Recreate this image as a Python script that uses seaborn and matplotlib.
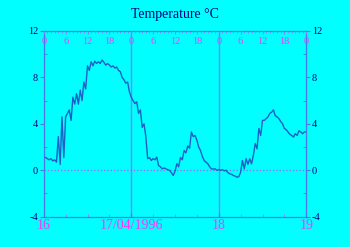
import numpy as np
import pandas as pd
import matplotlib
matplotlib.use("Agg")
import matplotlib.pyplot as plt
import seaborn as sns
from matplotlib.ticker import MultipleLocator, FixedLocator

# Half-hourly temperatures (°C) from 16 Apr 00:30 to 19 Apr 00:00
temps = [
    1.1, 1.0, 0.9, 1.0, 0.8, 0.9, 0.7, 2.9, 0.5, 4.6, 1.1, 4.6,
    4.9, 5.2, 4.3, 6.3, 5.7, 6.6, 5.7, 6.9, 6.0, 7.6, 7.0, 9.0,
    8.6, 9.35, 9.0, 9.4, 9.2, 9.35, 9.2, 9.5, 9.3, 9.06, 9.2, 9.06,
    8.9, 9.0, 8.8, 8.9, 8.6, 8.5, 8.0, 7.8, 7.5, 7.6, 6.75, 6.3,
    6.0, 5.75, 5.9, 4.9, 5.2, 3.7, 4.0, 2.9, 1.0, 1.1, 0.84, 1.0,
    0.9, 1.13, 0.4, 0.3, 0.12, 0.2, 0.12, 0.05, 0.0, -0.2, -0.45, -0.1,
    0.56, 0.3, 1.1, 0.9, 1.7, 1.5, 2.1, 1.9, 3.3, 2.9, 3.0, 2.6,
    2.0, 1.7, 1.2, 0.84, 0.7, 0.56, 0.3, 0.12, 0.1, 0.12, 0.0, 0.06,
    0.0, 0.05, -0.05, 0.0, -0.2, -0.3, -0.35, -0.45, -0.5, -0.6, -0.55, -0.17,
    0.84, 0.12, 1.0, 0.5, 1.0, 0.55, 1.3, 2.3, 1.85, 3.6, 3.0, 4.3,
    4.3, 4.45, 4.6, 4.9, 5.0, 5.2, 4.7, 4.6, 4.45, 4.2, 4.0, 3.6,
    3.5, 3.3, 3.1, 3.0, 2.86, 3.15, 3.0, 3.4, 3.3, 3.15, 3.3, 3.3,
]
hours = np.arange(1, len(temps) + 1) * 0.5
days = 16 + hours / 24.0

day_ticks = [16, 17, 18, 19]
day_labels = ["16", "17/04/1996", "18", "19"]
y_ticks = [-4, 0, 4, 8, 12]
hour_labels = ["0", "6", "12", "18"] * 3 + ["0"]
hour_ticks = [16 + i * 0.25 for i in range(len(hour_labels))]

df = pd.DataFrame({"day": days, "temp": temps})

BG = "#00ffff"
AXC = "#4a78e8"
MAG = "#ff33ff"
NAVY = "#000080"
SERIF = ["Liberation Serif", "DejaVu Serif"]

fig = plt.figure(figsize=(3.5, 2.47), dpi=100, facecolor=BG)
ax = fig.add_axes([0.125, 0.1227, 0.75, 0.7518])
ax.set_facecolor(BG)

ax.axvline(17, color="#7f7fff", lw=1.0, zorder=1)
ax.axvline(18, color="#7f7fff", lw=1.0, zorder=1)
ax.axhline(0, color="#a060ff", lw=0.9, ls=":", zorder=1)

sns.lineplot(data=df, x="day", y="temp", ax=ax, color="#1f5fc8", lw=1.0, zorder=3)

ax.set_xlim(16, 19)
ax.set_ylim(-4, 12)
ax.set_xlabel("")
ax.set_ylabel("")

for s in ax.spines.values():
    s.set_color(AXC)
    s.set_linewidth(0.9)

ax.xaxis.set_major_locator(FixedLocator(day_ticks))
ax.set_xticklabels(day_labels, fontfamily=SERIF, fontsize=10, color=MAG)
ax.xaxis.set_minor_locator(MultipleLocator(0.25))
ax.tick_params(axis="x", which="major", direction="in", length=3, color=AXC, pad=2)
ax.tick_params(axis="x", which="minor", direction="in", length=2, color="#8a7fff")

ax.yaxis.set_major_locator(FixedLocator(y_ticks))
ax.yaxis.set_minor_locator(MultipleLocator(2))
ax.set_yticklabels([str(v) for v in y_ticks], fontfamily=SERIF, fontsize=7.5, color=NAVY)
ax.tick_params(axis="y", which="major", direction="out", length=3, color=AXC,
               left=True, right=True, labelleft=True, labelright=True, pad=1)
ax.tick_params(axis="y", which="minor", direction="in", length=2, color=AXC,
               left=True, right=True)

ax2 = ax.twiny()
ax2.set_xlim(16, 19)
ax2.xaxis.set_major_locator(FixedLocator(hour_ticks))
ax2.set_xticklabels(hour_labels, fontfamily=SERIF, fontsize=7.5, color=MAG)
ax2.xaxis.set_minor_locator(MultipleLocator(1 / 24))
ax2.tick_params(axis="x", which="major", direction="in", length=2.5, color="#8a7fff", pad=-10.5)
ax2.tick_params(axis="x", which="minor", direction="in", length=1.5, color="#8a7fff")
for s in ax2.spines.values():
    s.set_visible(False)

fig.text(0.5, 0.94, "Temperature °C", ha="center", va="center",
         fontfamily=SERIF, fontsize=10, color=NAVY)

fig.savefig("out.png", dpi=100, facecolor=BG)
